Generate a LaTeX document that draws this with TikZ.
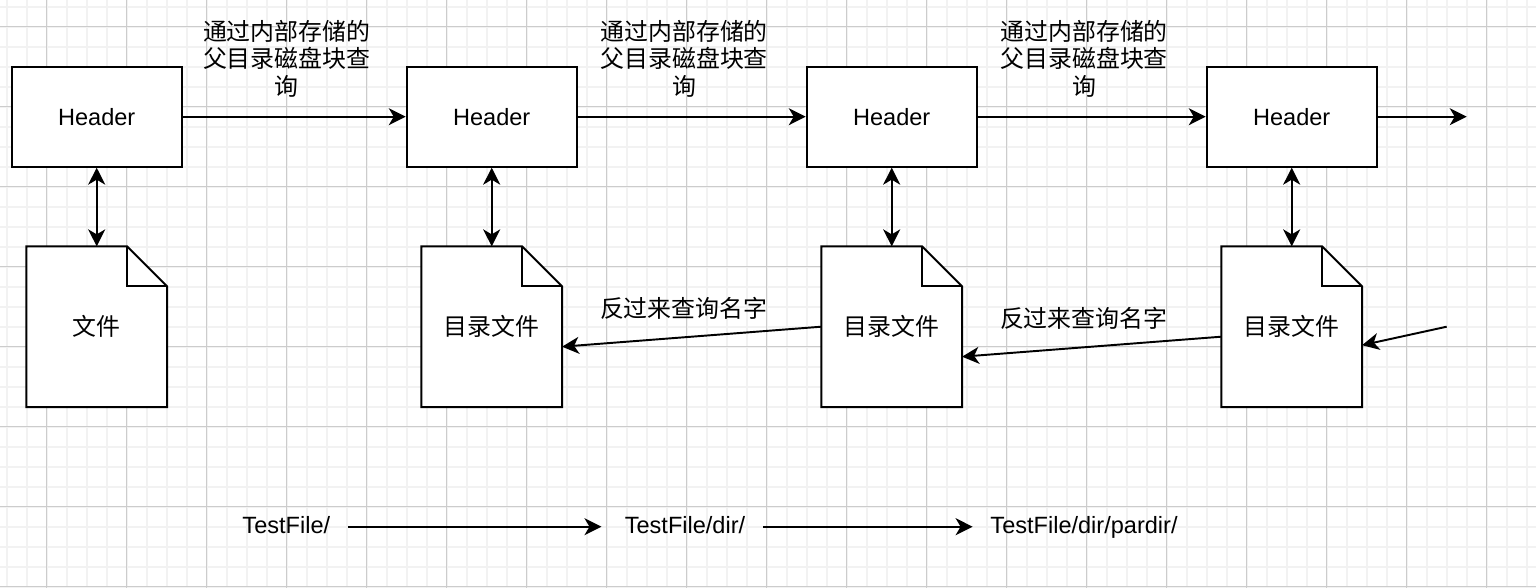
\documentclass[tikz,border=0pt]{standalone}
\usepackage{fontspec}
\setmainfont{Liberation Sans}
\newfontfamily\cjk{Noto Sans CJK SC}
\usetikzlibrary{arrows.meta}

\tikzset{
    hdr/.style={draw, line width=1.1pt, fill=white, minimum width=3.4cm, minimum height=2cm},
    filebox/.style={minimum width=2.8cm, minimum height=3.2cm, inner sep=0pt},
    arr/.style={-{Stealth[length=0.34cm,width=0.34cm,inset=0.1cm]}, line width=1.1pt},
    dblarr/.style={{Stealth[length=0.34cm,width=0.34cm,inset=0.1cm]}-{Stealth[length=0.34cm,width=0.34cm,inset=0.1cm]}, line width=1.1pt},
    zh/.style={font=\cjk\fontsize{13.6}{15.6}\selectfont, align=center},
    path/.style={inner xsep=0.35cm, text height=0.9em, text depth=0.18em},
}

% document outline with folded corner
\newcommand{\dogear}[1]{
    \filldraw[fill=white, line width=1.1pt, line join=miter]
        (#1.south west) -- (#1.north west) -- ([xshift=-0.8cm]#1.north east)
        -- ([yshift=-0.8cm]#1.north east) -- (#1.south east) -- cycle;
    \draw[line width=1.1pt] ([xshift=-0.8cm]#1.north east) |- ([yshift=-0.8cm]#1.north east);
}

\begin{document}
\begin{tikzpicture}[x=0.02cm, y=-0.02cm, font=\fontsize{13.4}{15.6}\selectfont]
    \useasboundingbox (0,0) rectangle (1536,588);

    % Grid
    \foreach \i in {0,...,76}
        \draw[black!5, line width=0.04cm] ({6.67+20*\i},0) -- ({6.67+20*\i},588);
    \foreach \i in {0,...,29}
        \draw[black!5, line width=0.04cm] (0,{6.67+20*\i}) -- (1536,{6.67+20*\i});
    \foreach \i in {0,...,18}
        \draw[black!20, line width=0.02cm] ({46.67+80*\i},0) -- ({46.67+80*\i},588);
    \foreach \i in {0,...,7}
        \draw[black!20, line width=0.02cm] (0,{26.67+80*\i}) -- (1536,{26.67+80*\i});

    % Headers
    \node[hdr] (h1) at (96.7,116.7) {Header};
    \node[hdr] (h2) at (491.7,116.7) {Header};
    \node[hdr] (h3) at (891.7,116.7) {Header};
    \node[hdr] (h4) at (1291.7,116.7) {Header};
    \coordinate (hend) at (1466.7,116.7);

    % Files
    \node[filebox] (f1) at (96.7,326.7) {};
    \node[filebox] (f2) at (491.7,326.7) {};
    \node[filebox] (f3) at (891.7,326.7) {};
    \node[filebox] (f4) at (1291.7,326.7) {};
    \dogear{f1} \dogear{f2} \dogear{f3} \dogear{f4}
    \node[zh] at (f1) {文件};
    \node[zh] at (f2) {目录文件};
    \node[zh] at (f3) {目录文件};
    \node[zh] at (f4) {目录文件};
    \coordinate (fend) at (1446.7,326.7);

    % Parent lookups
    \draw[arr] (h1.east) -- (h2.west)
        node[zh, midway, xshift=-0.15cm, yshift=1.16cm] {通过内部存储的\\父目录磁盘块查\\询};
    \draw[arr] (h2.east) -- (h3.west)
        node[zh, midway, xshift=-0.15cm, yshift=1.16cm] {通过内部存储的\\父目录磁盘块查\\询};
    \draw[arr] (h3.east) -- (h4.west)
        node[zh, midway, xshift=-0.15cm, yshift=1.16cm] {通过内部存储的\\父目录磁盘块查\\询};
    \draw[arr] (h4.east) -- (hend);

    % Header <-> file
    \draw[dblarr] (h1.south) -- (f1.north);
    \draw[dblarr] (h2.south) -- (f2.north);
    \draw[dblarr] (h3.south) -- (f3.north);
    \draw[dblarr] (h4.south) -- (f4.north);

    % Name lookups back
    \draw[arr] (f3.west) -- ([yshift=-0.4cm]f2.east)
        node[zh, midway, xshift=-0.16cm, yshift=0.57cm] {反过来查询名字};
    \draw[arr] ([yshift=-0.2cm]f4.west) -- ([yshift=-0.6cm]f3.east)
        node[zh, midway, xshift=-0.16cm, yshift=0.57cm] {反过来查询名字};
    \draw[arr] (fend) -- ([yshift=-0.37cm]f4.east);

    % Paths
    \node[path] (p1) at (286.3,526.7) {TestFile/};
    \node[path] (p2) at (685,526.7) {TestFile/dir/};
    \node[path] (p3) at (1084,526.7) {TestFile/dir/pardir/};
    \draw[arr, shorten >=0.11cm] (p1) -- (p2);
    \draw[arr] (p2) -- (p3);
\end{tikzpicture}
\end{document}
